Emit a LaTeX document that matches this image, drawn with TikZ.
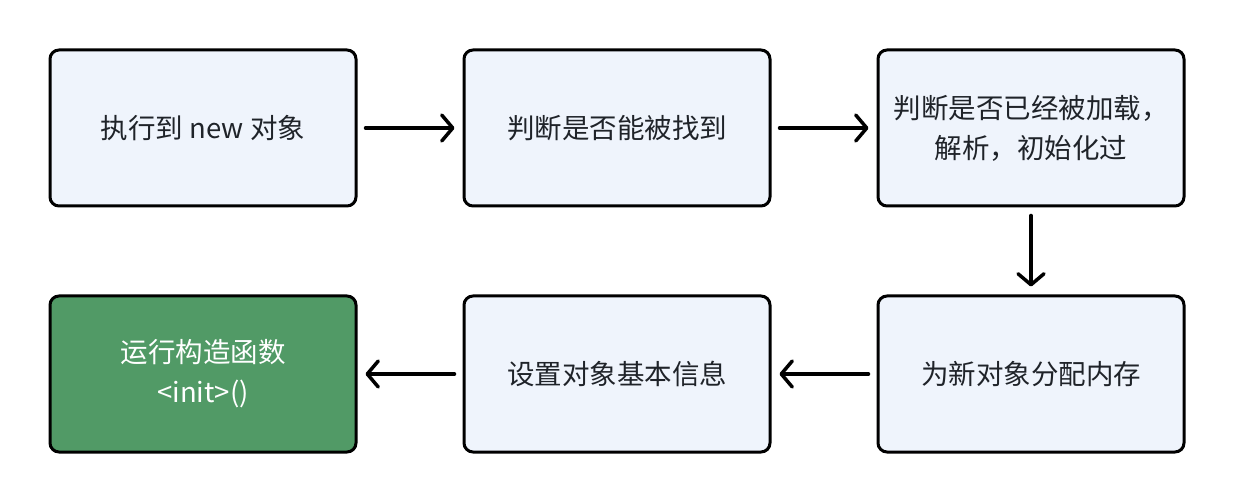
\documentclass[tikz,border=0pt]{standalone}
\usepackage{fontspec}
\setmainfont{Noto Sans CJK SC}
\usetikzlibrary{arrows.meta}
\definecolor{boxfill}{HTML}{EFF4FC}
\definecolor{greenfill}{HTML}{519A66}
\definecolor{txt}{HTML}{1F2329}
\tikzset{
  stepbox/.style={draw=black, line width=3pt, rounded corners=9pt, fill=boxfill,
    minimum width=306pt, minimum height=156pt, inner sep=0pt, align=center,
    font=\fontsize{27.5}{40}\selectfont, text=txt},
  greenbox/.style={stepbox, fill=greenfill, text=white},
  flow/.style={line width=3.5pt, line cap=round,
    -{Straight Barb[length=11pt,width=26pt,line width=3.5pt,round]}}
}
\begin{document}
\begin{tikzpicture}[x=1pt,y=-1pt]
\useasboundingbox (0,0) rectangle (1234,502);
\node[stepbox] (a) at (203,128) {执行到 new 对象};
\node[stepbox] (b) at (617,128) {判断是否能被找到};
\node[stepbox] (c) at (1031,128) {判断是否已经被加载，\\解析，初始化过};
\node[stepbox] (d) at (1031,374) {为新对象分配内存};
\node[stepbox] (e) at (617,374) {设置对象基本信息};
\node[greenbox] (f) at (203,374) {运行构造函数\\<init>()};
\draw[flow] ([xshift=8pt]a.east) -- ([xshift=-8pt]b.west);
\draw[flow] ([xshift=8pt]b.east) -- ([xshift=-8pt]c.west);
\draw[flow] ([yshift=-8pt]c.south) -- ([yshift=8pt]d.north);
\draw[flow] ([xshift=-8pt]d.west) -- ([xshift=8pt]e.east);
\draw[flow] ([xshift=-8pt]e.west) -- ([xshift=8pt]f.east);
\end{tikzpicture}
\end{document}
